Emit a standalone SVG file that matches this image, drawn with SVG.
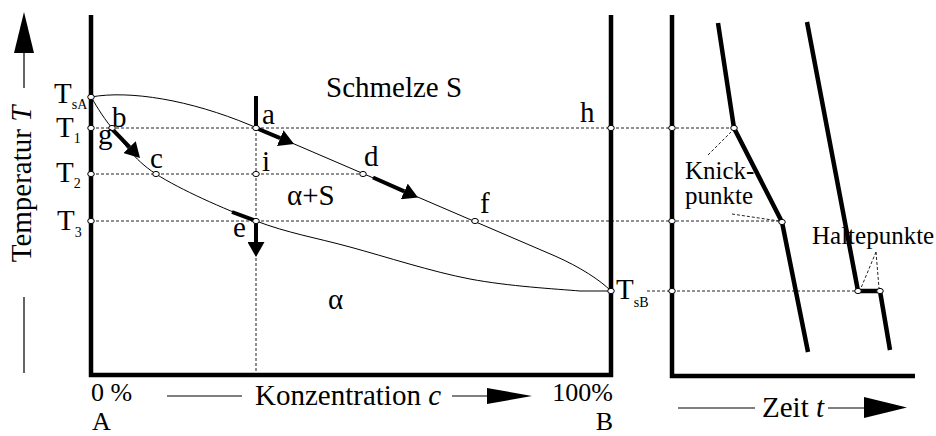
<svg xmlns="http://www.w3.org/2000/svg" width="936" height="436" viewBox="0 0 936 436">
<defs>
<style>
.ax{stroke:#000;stroke-width:4.5;fill:none;stroke-linejoin:miter}
.cv{stroke:#000;stroke-width:4.5;fill:none;stroke-linejoin:miter}
.thin{stroke:#000;stroke-width:1;fill:none}
.dot{stroke:#222;stroke-width:1;stroke-dasharray:3 2;fill:none}
.pt{fill:#fff;stroke:#000;stroke-width:1}
.arr{stroke:#000;stroke-width:4;fill:none}
.ln{stroke:#000;stroke-width:1.2;fill:none}
.lbl{font-family:'Liberation Serif','Times New Roman',Times,serif;font-size:29px;fill:#000}
.sub{font-size:14px}
.sm{font-size:25px}
.ends{font-size:26px}
</style>
<marker id="ah" markerUnits="userSpaceOnUse" viewBox="0 0 15 17" refX="0" refY="8.5" markerWidth="15" markerHeight="17" orient="auto">
<path d="M0,0 L15,8.5 L0,17 z" fill="#000"/>
</marker>
</defs>

<g id="guides">
<path class="dot" d="M91,128 H734"/>
<path class="dot" d="M91,174 H363"/>
<path class="dot" d="M91,221 H782"/>
<path class="dot" d="M647,291 H858"/>
<path class="dot" d="M256,128 V375"/>
<path class="dot" d="M708,155 L731,132"/>
<path class="dot" d="M732,214 L779,221"/>
<path class="dot" d="M876,252 L861,288"/>
<path class="dot" d="M876,252 L879,288"/>
</g>

<g id="phase-curves">
<path class="thin" d="M91,97 C130,90 190,100 250,125 L555,256 C580,267 600,280 611,291"/>
<path class="thin" d="M91,97 C94.5,102.2 101.2,115.2 112,128 C122.8,140.8 132,158.5 156,174 C180,189.5 223.7,208.8 256,221 C288.3,233.2 314.3,237.3 350,247 C385.7,256.7 431.7,271.7 470,279 C508.3,286.3 556.5,289 580,291 L611,291"/>
</g>

<g id="axes">
<path class="ax" d="M91,15 L91,375 L611,375 L611,15"/>
<path class="ax" d="M672,15 L672,376 L915,376"/>
</g>

<g id="cooling-curves">
<path class="cv" d="M718,23 L734,128 L782,222 L808,352"/>
<path class="cv" d="M807,22 L858,291 L880,291 L890,350"/>
</g>

<g id="connectors">
<path class="arr" d="M256,96 V127"/>
<path class="arr" d="M256,128 L280.2,138.2" marker-end="url(#ah)"/>
<path class="arr" d="M112,129 L129.6,147.2" marker-end="url(#ah)"/>
<path class="arr" d="M373,177.5 L404.3,191.4" marker-end="url(#ah)"/>
<path class="arr" d="M232,212 L256,221"/>
<path class="arr" d="M256,221 V242" marker-end="url(#ah)"/>
</g>

<g id="points">
<ellipse class="pt" cx="91" cy="97" rx="3.3" ry="2.6"/>
<ellipse class="pt" cx="91" cy="128" rx="3.3" ry="2.6"/>
<ellipse class="pt" cx="91" cy="174" rx="3.3" ry="2.6"/>
<ellipse class="pt" cx="91" cy="221" rx="3.3" ry="2.6"/>
<ellipse class="pt" cx="112" cy="128" rx="3.3" ry="2.6"/>
<ellipse class="pt" cx="156" cy="174" rx="3.3" ry="2.6"/>
<ellipse class="pt" cx="256" cy="128" rx="3.3" ry="2.6"/>
<ellipse class="pt" cx="256" cy="174" rx="3.3" ry="2.6"/>
<ellipse class="pt" cx="363" cy="174" rx="3.3" ry="2.6"/>
<ellipse class="pt" cx="256" cy="221" rx="3.3" ry="2.6"/>
<ellipse class="pt" cx="475" cy="221" rx="3.3" ry="2.6"/>
<ellipse class="pt" cx="611" cy="128" rx="3.3" ry="2.6"/>
<ellipse class="pt" cx="611" cy="291" rx="3.3" ry="2.6"/>
<ellipse class="pt" cx="672" cy="128" rx="3.3" ry="2.6"/>
<ellipse class="pt" cx="734" cy="128" rx="3.3" ry="2.6"/>
<ellipse class="pt" cx="672" cy="221" rx="3.3" ry="2.6"/>
<ellipse class="pt" cx="782" cy="222" rx="3.3" ry="2.6"/>
<ellipse class="pt" cx="672" cy="291" rx="3.3" ry="2.6"/>
<ellipse class="pt" cx="858" cy="291" rx="3.3" ry="2.6"/>
<ellipse class="pt" cx="880" cy="291" rx="3.3" ry="2.6"/>
</g>

<g id="axis-arrows">
<path class="ln" d="M24,53 V88 M24,297 V373"/>
<polygon points="14,53 34,53 24,12" fill="#000"/>
<path class="ln" d="M167,396 H242 M452,396 H488"/>
<polygon points="487,388 487,404 532,396" fill="#000"/>
<path class="ln" d="M678,408 H755 M828,408 H865"/>
<polygon points="864,397 864,418 907,407.5" fill="#000"/>
</g>

<g id="labels" class="lbl" font-family="'Liberation Serif', 'Times New Roman', Times, serif" font-size="29">
<text transform="translate(31,184) rotate(-90)" text-anchor="middle">Temperatur <tspan font-style="italic">T</tspan></text>
<text x="54" y="103">T<tspan class="sub" dy="6">sA</tspan></text>
<text x="56" y="137">T<tspan class="sub" dy="6">1</tspan></text>
<text x="56" y="182">T<tspan class="sub" dy="6">2</tspan></text>
<text x="57" y="230">T<tspan class="sub" dy="7">3</tspan></text>
<text x="616" y="299">T<tspan class="sub" dy="8">sB</tspan></text>
<text x="326" y="97">Schmelze S</text>
<text x="112" y="127">b</text>
<text x="98" y="144">g</text>
<text x="150" y="168">c</text>
<text x="262" y="124">a</text>
<text x="262" y="171">i</text>
<text x="364" y="166">d</text>
<text x="287" y="205">α+S</text>
<text x="233" y="237">e</text>
<text x="480" y="213">f</text>
<text x="580" y="122">h</text>
<text x="328" y="309">α</text>
<text class="ends" x="91" y="401">0 %</text>
<text class="ends" x="92" y="430">A</text>
<text class="ends" x="613" y="401" text-anchor="end">100%</text>
<text class="ends" x="613" y="430" text-anchor="end">B</text>
<text x="255" y="405">Konzentration <tspan font-style="italic">c</tspan></text>
<text x="762" y="417">Zeit <tspan font-style="italic">t</tspan></text>
<text class="sm" x="685" y="179">Knick-</text>
<text class="sm" x="685" y="204">punkte</text>
<text class="sm" x="812" y="244">Haltepunkte</text>
</g>
</svg>
